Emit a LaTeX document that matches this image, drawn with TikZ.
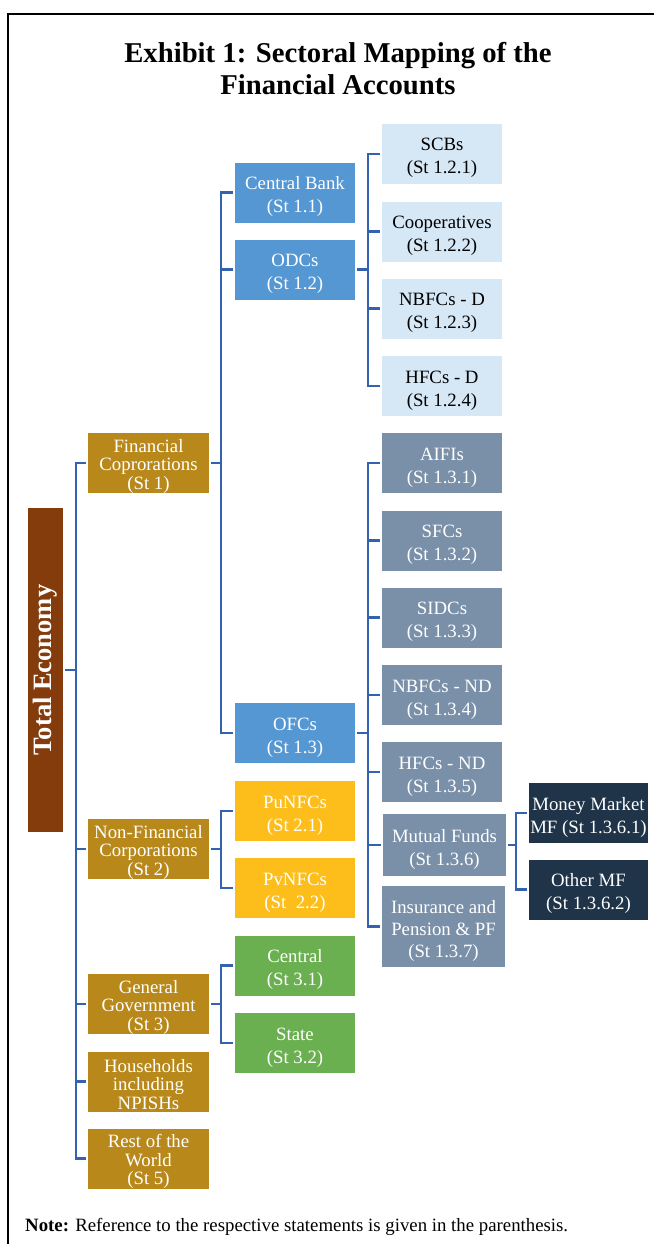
\documentclass[tikz,border=0pt]{standalone}
\usepackage{fontspec}
\usepackage{graphicx}
\setmainfont{Liberation Serif}
\definecolor{linec}{HTML}{3362B0}
\definecolor{brownc}{HTML}{843C0C}
\definecolor{goldc}{HTML}{B8891A}
\definecolor{yellowc}{HTML}{FDBE1B}
\definecolor{greenc}{HTML}{6AAF50}
\definecolor{bluec}{HTML}{5597D3}
\definecolor{lightc}{HTML}{D6E7F5}
\definecolor{greyc}{HTML}{7A8FA8}
\definecolor{navyc}{HTML}{1F3448}
\begin{document}
\begin{tikzpicture}[x=1pt,y=-1pt,
  box/.style={rectangle, inner sep=0pt, minimum width=120pt, minimum height=60pt,
    align=center, text=white, font=\fontsize{18.8}{23}\selectfont,
    execute at begin node={\rule{0pt}{44pt}}},
  tight/.style={font=\fontsize{18.8}{18.5}\selectfont,
    execute at begin node={\rule{0pt}{56pt}}},
  lvlone/.style={box, fill=goldc, minimum width=121pt, tight},
  bluebox/.style={box, fill=bluec},
  lightbox/.style={box, fill=lightc, text=black},
  greybox/.style={box, fill=greyc},
  navybox/.style={box, fill=navyc, minimum width=119pt},
  yellowbox/.style={box, fill=yellowc},
  greenbox/.style={box, fill=greenc},
  conn/.style={draw=linec, line width=2.2pt}]
\useasboundingbox (0,0) rectangle (654,1244);
\draw[black, line width=1.5pt] (8,1244) -- (8,14) -- (654,14);

\node[font=\bfseries\fontsize{28.7}{32}\selectfont, align=center] (title) at (338,69)
  {Exhibit 1: Sectoral Mapping of the\\Financial Accounts};

% Total economy
\node[rectangle, fill=brownc, minimum width=35pt, minimum height=324pt, inner sep=0pt,
  text=white, font=\bfseries\fontsize{26.5}{28}\selectfont] (TE) at (45.5,670)
  {\rotatebox{90}{Total Economy}};

% level 1
\node[lvlone] (FC) at (148.5,463) {Financial\\Coprorations\\(St 1)};
\node[lvlone] (NFC) at (148.5,849) {Non-Financial\\Corporations\\(St 2)};
\node[lvlone] (GG) at (148.5,1004) {General\\Government\\(St 3)};
\node[lvlone] (HH) at (148.5,1081.5) {Households\\including\\NPISHs};
\node[lvlone] (RoW) at (148.5,1158.5) {Rest of the\\World\\(St 5)};

% level 2
\node[bluebox] (CB) at (295,192.5) {Central Bank\\(St 1.1)};
\node[bluebox] (ODC) at (295,269.5) {ODCs\\(St 1.2)};
\node[bluebox] (OFC) at (295,733) {OFCs\\(St 1.3)};
\node[yellowbox] (PU) at (295,811) {PuNFCs\\(St 2.1)};
\node[yellowbox] (PV) at (295,888) {PvNFCs\\(St\ \ 2.2)};
\node[greenbox] (CEN) at (295,965.5) {Central\\(St 3.1)};
\node[greenbox] (ST) at (295,1043) {State\\(St 3.2)};

% level 3 ODCs
\node[lightbox] (SCB) at (442,154) {SCBs\\(St 1.2.1)};
\node[lightbox] (COOP) at (442,231.5) {Cooperatives\\(St 1.2.2)};
\node[lightbox] (NBD) at (442,308.5) {NBFCs - D\\(St 1.2.3)};
\node[lightbox] (HFD) at (442,386) {HFCs - D\\(St 1.2.4)};

% level 3 OFCs
\node[greybox] (AIFI) at (442,463) {AIFIs\\(St 1.3.1)};
\node[greybox] (SFC) at (442,540.5) {SFCs\\(St 1.3.2)};
\node[greybox] (SIDC) at (442,617.5) {SIDCs\\(St 1.3.3)};
\node[greybox] (NBND) at (442,695) {NBFCs - ND\\(St 1.3.4)};
\node[greybox] (HFND) at (442,772) {HFCs - ND\\(St 1.3.5)};
\node[greybox, minimum width=123pt, minimum height=62pt] (MF) at (444.5,845) {Mutual Funds\\(St 1.3.6)};
\node[greybox, minimum width=123pt, minimum height=81pt, font=\fontsize{18.8}{22}\selectfont,
  execute at begin node={\rule{0pt}{65pt}}] (INS) at (443.5,926.5) {Insurance and\\Pension \& PF\\(St 1.3.7)};

% level 4
\node[navybox] (MM) at (588.5,813) {Money Market\\MF (St 1.3.6.1)};
\node[navybox] (OMF) at (588.5,889.5) {Other MF\\(St 1.3.6.2)};

% buses
\coordinate (b0) at (76,0);
\coordinate (b1) at (221,0);
\coordinate (b2) at (368,0);
\coordinate (b3) at (516,0);

% TE -> level 1
\draw[conn] ([xshift=2pt]TE.east) -- (b0 |- TE.east);
\draw[conn] ([xshift=-2pt]FC.west) -| (b0 |- RoW.west) -- ([xshift=-2pt]RoW.west);
\foreach \n in {NFC,GG,HH} \draw[conn] (b0 |- \n.west) -- ([xshift=-2pt]\n.west);

% FC -> level 2
\draw[conn] ([xshift=2pt]FC.east) -- (b1 |- FC.east);
\draw[conn] ([xshift=-2pt]CB.west) -| (b1 |- OFC.west) -- ([xshift=-2pt]OFC.west);
\draw[conn] (b1 |- ODC.west) -- ([xshift=-2pt]ODC.west);

% NFC -> level 2
\draw[conn] ([xshift=2pt]NFC.east) -- (b1 |- NFC.east);
\draw[conn] ([xshift=-2pt]PU.west) -| (b1 |- PV.west) -- ([xshift=-2pt]PV.west);

% GG -> level 2
\draw[conn] ([xshift=2pt]GG.east) -- (b1 |- GG.east);
\draw[conn] ([xshift=-2pt]CEN.west) -| (b1 |- ST.west) -- ([xshift=-2pt]ST.west);

% ODC -> level 3
\draw[conn] ([xshift=2pt]ODC.east) -- (b2 |- ODC.east);
\draw[conn] ([xshift=-2pt]SCB.west) -| (b2 |- HFD.west) -- ([xshift=-2pt]HFD.west);
\foreach \n in {COOP,NBD} \draw[conn] (b2 |- \n.west) -- ([xshift=-2pt]\n.west);

% OFC -> level 3
\draw[conn] ([xshift=2pt]OFC.east) -- (b2 |- OFC.east);
\draw[conn] ([xshift=-2pt]AIFI.west) -| (b2 |- INS.west) -- ([xshift=-2pt]INS.west);
\foreach \n in {SFC,SIDC,NBND,HFND,MF} \draw[conn] (b2 |- \n.west) -- ([xshift=-2pt]\n.west);

% MF -> level 4
\draw[conn] ([xshift=2pt]MF.east) -- (b3 |- MF.east);
\draw[conn] ([xshift=-2pt]MM.west) -| (b3 |- OMF.west) -- ([xshift=-2pt]OMF.west);

% note
\node[anchor=base west, font=\fontsize{18.8}{22}\selectfont, inner sep=0pt] (note) at (25,1231)
  {\textbf{Note:} Reference to the respective statements is given in the parenthesis.};
\end{tikzpicture}
\end{document}
